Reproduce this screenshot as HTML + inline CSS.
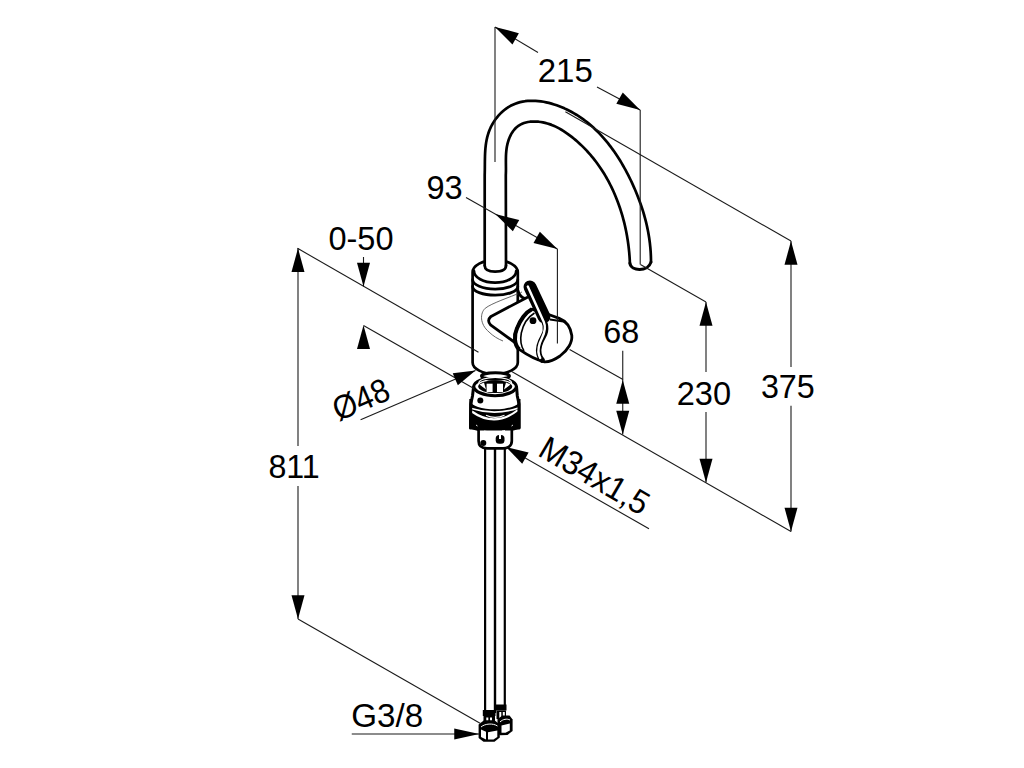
<!DOCTYPE html>
<html><head><meta charset="utf-8"><style>
html,body{margin:0;padding:0;background:#fff;width:1024px;height:768px;overflow:hidden}
svg{display:block}
text{font-family:"Liberation Sans",sans-serif;fill:#000}
</style></head><body>
<svg width="1024" height="768" viewBox="0 0 1024 768">
<rect width="1024" height="768" fill="#fff"/>
<path d="M472.6,272.3 A22.6,12.2 0 0 1 517.8,272.3 L517.8,362.5 A22.6,11.5 0 0 1 472.6,362.5 Z" fill="#fff" stroke="#000" stroke-width="2.7" stroke-linecap="round" stroke-linejoin="round"/>
<path d="M474.0,271 A21.1,11.7 0 0 0 516.2,271" fill="none" stroke="#000" stroke-width="2.7" stroke-linecap="round" stroke-linejoin="round"/>
<path d="M472.6,279.5 A22.6,9.6 0 0 0 517.8,279.5" fill="none" stroke="#000" stroke-width="2.7" stroke-linecap="round" stroke-linejoin="round"/>
<path d="M472.6,286.4 A22.6,8.8 0 0 0 517.8,286.4" fill="none" stroke="#000" stroke-width="2.7" stroke-linecap="round" stroke-linejoin="round"/>
<path d="M522,292 C508,298 492,303 485.2,308.3 C480,313 479.5,324 489,332 C493,336 498,339 503,341" fill="none" stroke="#555" stroke-width="0.9"/>
<path d="M484.7,250 L506,250 L506,265.6 C506,270 501,271.7 495.1,271.7 C489,271.7 484.7,270 484.7,265.6 Z" fill="#fff"/>
<path d="M484.7,265.6 L484.7,175 L484.77,172.35 L484.82,169.68 L484.84,167.01 L484.86,164.32 L484.88,161.63 L484.92,158.93 L484.98,156.24 L485.08,153.54 L485.23,150.86 L485.44,148.18 L485.72,145.52 L486.09,142.87 L486.55,140.23 L487.12,137.62 L487.80,135.04 L488.61,132.48 L489.57,129.95 L490.67,127.46 L491.92,125.01 L493.30,122.62 L494.82,120.30 L496.46,118.06 L498.21,115.92 L500.06,113.89 L502.01,111.98 L504.04,110.21 L506.16,108.58 L508.34,107.12 L510.59,105.82 L512.90,104.68 L515.26,103.69 L517.68,102.86 L520.13,102.17 L522.63,101.62 L525.17,101.21 L527.73,100.94 L530.32,100.78 L532.94,100.76 L535.57,100.85 L538.22,101.05 L540.87,101.37 L543.53,101.79 L546.18,102.31 L548.83,102.92 L551.47,103.63 L554.10,104.42 L556.70,105.29 L559.29,106.25 L561.84,107.27 L564.36,108.36 L566.84,109.52 L569.28,110.74 L571.68,112.01 L574.03,113.34 L576.34,114.72 L578.61,116.16 L580.84,117.65 L583.03,119.19 L585.17,120.78 L587.28,122.42 L589.35,124.10 L591.38,125.83 L593.37,127.60 L595.32,129.41 L597.23,131.27 L599.10,133.16 L600.94,135.10 L602.74,137.07 L604.50,139.07 L606.23,141.12 L607.93,143.19 L609.58,145.30 L611.21,147.43 L612.79,149.60 L614.35,151.79 L615.87,154.01 L617.36,156.25 L618.81,158.52 L620.24,160.81 L621.63,163.12 L622.99,165.45 L624.32,167.80 L625.62,170.17 L626.89,172.55 L628.12,174.94 L629.33,177.35 L630.52,179.77 L631.67,182.20 L632.79,184.64 L633.89,187.09 L634.96,189.54 L636.00,192.00 L637.01,194.47 L637.99,196.94 L638.95,199.42 L639.87,201.91 L640.76,204.41 L641.62,206.92 L642.44,209.44 L643.23,211.96 L643.99,214.50 L644.71,217.04 L645.40,219.60 L646.05,222.17 L646.66,224.74 L647.24,227.33 L647.78,229.93 L648.27,232.54 L648.73,235.16 L649.15,237.80 L649.53,240.44 L649.87,243.10 L650.16,245.78 L650.41,248.46 L650.62,251.16 L650.78,253.87 L650.90,256.60 L650.97,259.34 L651.00,262.10" fill="none" stroke="#000" stroke-width="2.7" stroke-linecap="round" stroke-linejoin="round"/>
<path d="M506,265.6 L505.8,175 L505.89,173.01 L505.94,170.95 L505.95,168.85 L505.93,166.70 L505.91,164.51 L505.89,162.29 L505.89,160.05 L505.92,157.80 L505.98,155.54 L506.10,153.28 L506.29,151.03 L506.55,148.80 L506.91,146.59 L507.35,144.42 L507.89,142.30 L508.53,140.23 L509.27,138.22 L510.10,136.28 L511.03,134.43 L512.07,132.67 L513.20,131.01 L514.43,129.47 L515.77,128.04 L517.21,126.75 L518.76,125.59 L520.41,124.59 L522.17,123.73 L524.01,123.02 L525.93,122.45 L527.92,122.02 L529.96,121.71 L532.06,121.54 L534.20,121.48 L536.37,121.54 L538.56,121.72 L540.76,122.00 L542.96,122.39 L545.15,122.87 L547.33,123.45 L549.47,124.13 L551.58,124.88 L553.64,125.72 L555.65,126.63 L557.61,127.62 L559.54,128.66 L561.42,129.76 L563.27,130.91 L565.08,132.11 L566.86,133.33 L568.62,134.59 L570.35,135.88 L572.05,137.19 L573.73,138.53 L575.38,139.90 L577.01,141.29 L578.61,142.71 L580.18,144.15 L581.73,145.61 L583.26,147.10 L584.75,148.61 L586.23,150.15 L587.67,151.71 L589.09,153.29 L590.49,154.89 L591.86,156.51 L593.20,158.16 L594.52,159.82 L595.82,161.50 L597.09,163.21 L598.33,164.93 L599.55,166.67 L600.75,168.43 L601.92,170.20 L603.06,172.00 L604.19,173.81 L605.28,175.63 L606.35,177.47 L607.40,179.33 L608.42,181.20 L609.42,183.09 L610.39,184.99 L611.34,186.91 L612.27,188.83 L613.17,190.78 L614.05,192.73 L614.90,194.69 L615.73,196.67 L616.53,198.66 L617.31,200.65 L618.07,202.66 L618.80,204.68 L619.51,206.71 L620.20,208.74 L620.86,210.79 L621.50,212.84 L622.11,214.90 L622.70,216.96 L623.27,219.04 L623.82,221.12 L624.34,223.20 L624.84,225.29 L625.31,227.38 L625.76,229.48 L626.19,231.59 L626.60,233.69 L626.98,235.80 L627.34,237.91 L627.68,240.03 L627.99,242.14 L628.28,244.26 L628.55,246.38 L628.80,248.50 L629.02,250.62 L629.23,252.73 L629.41,254.85 L629.56,256.97 L629.70,259.08 L629.81,261.19 L629.90,263.30" fill="none" stroke="#000" stroke-width="2.7" stroke-linecap="round" stroke-linejoin="round"/>
<path d="M484.7,265.6 C484.7,270 489,271.7 495.1,271.7 C501,271.7 506,270 506,265.6" fill="none" stroke="#000" stroke-width="2.7" stroke-linecap="round" stroke-linejoin="round"/>
<path d="M629.9,263.3 C631,271.5 648,272 651,262.1" fill="none" stroke="#000" stroke-width="3" stroke-linecap="round"/>
<path d="M517.8,290.5 C519,294.5 521.5,297.5 525,298.5 L491,316.4 Q486.5,320.5 490.5,324.8 L519,345.5 L527,345 L530,300 Z" fill="#fff"/>
<path d="M517.8,290.5 C519,294.5 521.5,297.5 525,298.5 M527,297.5 L491,316.4 Q486.5,320.5 490.5,324.8 L519,345.5" fill="none" stroke="#000" stroke-width="2.8" stroke-linecap="round" stroke-linejoin="round"/>
<path d="M531.8,309.2 L550,315 L559.2,318.4 C566,321 570.5,327 571.8,335.5 C572.5,342 568,350 560,356 C555,359.5 549,362 544.5,361.8 C535,359.5 526,354 519.2,349.3 C514,345 514,335 516.9,328.7 C520,320 526,312 531.8,309.2 Z" fill="#fff" stroke="#000" stroke-width="2.8" stroke-linejoin="round"/>
<path d="M531.8,309.2 C526,312 520,320 516.9,328.7 C514,335 514,345 519.2,349.3" fill="none" stroke="#000" stroke-width="4"/>
<path d="M534.5,313 C528,317 523,325 521.3,333 C520,340 521,346 524,351" fill="none" stroke="#000" stroke-width="1.6"/>
<path d="M550,319.5 L565,321.8" fill="none" stroke="#000" stroke-width="2"/>
<path d="M530,287 L544,316.7" fill="none" stroke="#000" stroke-width="13" stroke-linecap="round"/>
<path d="M541,316 C546,323 547,330 543.5,336 C540,342 537.5,348 539,354 C539.5,356.5 540.5,358.5 542,360" fill="none" stroke="#000" stroke-width="5.5" stroke-linecap="round"/>
<path d="M527.8,286.5 L543.8,322 C546,327 545,332 542,338 C539,344 537.5,350 539,355 L540.2,358" fill="none" stroke="#fff" stroke-width="2.4" stroke-linecap="round"/>
<circle cx="533" cy="320.7" r="3.4" fill="#000"/>
<path d="M473.6,386.5 A21.5,9.7 0 0 1 516.5,386.5 L517.3,396 L519,404 L519,428 L470.5,428 L470.8,404 L472.5,396 Z" fill="#fff" stroke="#000" stroke-width="3" stroke-linejoin="round"/>
<ellipse cx="495.5" cy="376" rx="14" ry="3.2" fill="#fff" stroke="#000" stroke-width="3"/>
<path d="M473.6,386.5 A21.5,9.9 0 0 0 516.5,386.5" fill="none" stroke="#000" stroke-width="3.2"/>
<ellipse cx="495.2" cy="386.6" rx="17" ry="6.4" fill="#000"/>
<path d="M479.5,384.5 L484,382.5 L486,389.5 Z M510.5,384.5 L506,382.5 L504,389.5 Z" fill="#fff"/>
<rect x="486.6" y="383.7" width="6" height="8.3" fill="#fff"/>
<rect x="497" y="383.7" width="6" height="8.3" fill="#fff"/>
<path d="M478.8,383 A16.4,5.6 0 0 1 511.6,383" fill="none" stroke="#fff" stroke-width="1.2"/>
<path d="M471,401.5 A24,7.8 0 0 0 519,401.5 L519,428.5 C516,430 512,431 505,432.5 C500,433.5 490,433.5 486,433 C480,431.5 474,430 470.5,428.5 Z" fill="#000"/>
<path d="M471.5,408.5 Q495,416 518.5,408" fill="none" stroke="#fff" stroke-width="1.6"/>
<path d="M471.8,411.5 Q495,428 518,410" fill="none" stroke="#fff" stroke-width="2.2"/>
<path d="M486,415.2 Q495,419.5 504.5,415.2" fill="none" stroke="#fff" stroke-width="1.1"/>
<path d="M470.8,399 L470.5,428.5 M519,399 L519,428.5" fill="none" stroke="#000" stroke-width="3"/>
<circle cx="480.3" cy="400.5" r="3" fill="#000"/>
<path d="M476,425 l1.5,1 M513,425 l-1.5,1 M484,431 l3,0.5 M502,431 l3,-0.5" stroke="#fff" stroke-width="0.9"/>
<path d="M478.6,430.5 L478.6,441 C478.6,446 482,448.3 487,448.3 L503,448.3 C508,448.3 511.8,446 511.8,441 L511.8,430.5" fill="#fff" stroke="#000" stroke-width="2.7" stroke-linecap="round" stroke-linejoin="round"/>
<rect x="495.7" y="435" width="8.8" height="8.7" rx="3.5" fill="#000"/>
<rect x="499" y="432" width="2" height="7" fill="#fff"/>
<circle cx="483.3" cy="443" r="3" fill="#000"/>
<line x1="485.10" y1="448.30" x2="485.10" y2="713.00" stroke="#000" stroke-width="2.2"/>
<line x1="495.00" y1="448.30" x2="495.00" y2="713.00" stroke="#000" stroke-width="2.4"/>
<line x1="504.80" y1="448.30" x2="504.80" y2="708.00" stroke="#000" stroke-width="2.2"/>
<path d="M482.8,710 L495.5,710 L495.5,716 L482.8,716 Z" fill="#000"/>
<path d="M495.5,704.5 L506.5,704.5 L506.5,710.5 L495.5,710.5 Z" fill="#000"/>
<path d="M483.5,716 L495,716 L495,725 L483.5,725 Z" fill="#000"/>
<path d="M496.5,710.5 L506,710.5 L506,719 L496.5,719 Z" fill="#000"/>
<path d="M486.3,717.5 h2 v6 h-2 Z M490,717.5 h2 v6 h-2 Z M499.3,712 h2 v6 h-2 Z M502.8,712 h2 v6 h-2 Z" fill="#fff"/>
<path d="M497.5,719 L502.5,715.6 L509.5,715.6 L512.6,719.5 L512.6,731 L507.5,735 L500,735.3 L497.5,733 Z" fill="#000"/>
<path d="M501.5,725.5 L509.8,723.5 L509.8,730.5 L505.5,732.8 L501.5,732.8 Z" fill="#fff"/>
<path d="M500,722 C503,719 507,718.5 510,720" fill="none" stroke="#fff" stroke-width="1"/>
<path d="M478.6,724.5 L484,720.3 L494.5,720.3 L499.8,724.5 L499.8,737.5 L494.5,741.8 L483.5,741.8 L478.6,738 Z" fill="#000"/>
<path d="M481,729.5 L486,731.8 L486,739.5 L481,737 Z" fill="#fff"/>
<path d="M488,732.2 L497.3,730.5 L497.3,737 L493.5,739.5 L488,739.5 Z" fill="#fff"/>
<path d="M481,727 C485,723.5 493,723 497.5,726" fill="none" stroke="#fff" stroke-width="1"/>
<line x1="495.00" y1="27.00" x2="495.00" y2="162.00" stroke="#1a1a1a" stroke-width="1.1"/>
<line x1="640.20" y1="110.00" x2="640.20" y2="264.50" stroke="#1a1a1a" stroke-width="1.1"/>
<line x1="495.00" y1="27.00" x2="538.00" y2="52.50" stroke="#1a1a1a" stroke-width="1.1"/>
<polygon points="495.00,27.00 512.44,44.45 518.89,33.17" fill="#000"/>
<line x1="597.00" y1="87.00" x2="640.20" y2="110.00" stroke="#1a1a1a" stroke-width="1.1"/>
<polygon points="640.20,110.00 622.76,92.55 616.31,103.83" fill="#000"/>
<text x="537.7" y="82" font-size="33.5" text-anchor="start" textLength="55.1" lengthAdjust="spacingAndGlyphs">215</text>
<line x1="466.00" y1="197.50" x2="557.40" y2="249.00" stroke="#1a1a1a" stroke-width="1.1"/>
<polygon points="495.30,214.00 512.84,231.35 519.23,220.02" fill="#000"/>
<polygon points="557.40,249.00 539.86,231.65 533.47,242.98" fill="#000"/>
<line x1="557.40" y1="249.00" x2="557.40" y2="343.60" stroke="#1a1a1a" stroke-width="1.1"/>
<text x="426.4" y="199" font-size="33.5" text-anchor="start" textLength="36.2" lengthAdjust="spacingAndGlyphs">93</text>
<line x1="297.50" y1="248.30" x2="478.50" y2="352.30" stroke="#1a1a1a" stroke-width="1.1"/>
<line x1="511.25" y1="371.20" x2="791.00" y2="531.50" stroke="#1a1a1a" stroke-width="1.1"/>
<line x1="363.50" y1="325.50" x2="473.90" y2="388.40" stroke="#1a1a1a" stroke-width="1.1"/>
<line x1="363.50" y1="257.00" x2="363.50" y2="286.50" stroke="#1a1a1a" stroke-width="1.1"/>
<polygon points="363.50,286.50 370.00,262.70 357.00,262.70" fill="#000"/>
<polygon points="363.50,325.20 357.00,349.00 370.00,349.00" fill="#000"/>
<text x="328.4" y="249.5" font-size="33.5" text-anchor="start" textLength="65.1" lengthAdjust="spacingAndGlyphs">0-50</text>
<line x1="298.00" y1="248.30" x2="298.00" y2="446.00" stroke="#1a1a1a" stroke-width="1.1"/>
<polygon points="298.00,248.30 291.50,272.10 304.50,272.10" fill="#000"/>
<line x1="298.00" y1="486.00" x2="298.00" y2="619.00" stroke="#1a1a1a" stroke-width="1.1"/>
<polygon points="298.00,619.00 304.50,595.20 291.50,595.20" fill="#000"/>
<text x="268.4" y="478" font-size="33.5" text-anchor="start" textLength="51.4" lengthAdjust="spacingAndGlyphs">811</text>
<line x1="298.00" y1="619.00" x2="480.50" y2="723.50" stroke="#1a1a1a" stroke-width="1.1"/>
<line x1="351.75" y1="734.00" x2="479.25" y2="734.00" stroke="#1a1a1a" stroke-width="1.1"/>
<polygon points="479.25,734.00 454.25,728.40 454.25,739.60" fill="#000"/>
<text x="351.2" y="727.3" font-size="33.5" text-anchor="start" textLength="71.9" lengthAdjust="spacingAndGlyphs">G3/8</text>
<line x1="569.60" y1="349.60" x2="623.00" y2="379.60" stroke="#1a1a1a" stroke-width="1.1"/>
<line x1="622.75" y1="350.70" x2="622.75" y2="434.50" stroke="#1a1a1a" stroke-width="1.1"/>
<polygon points="622.75,380.00 616.25,403.80 629.25,403.80" fill="#000"/>
<polygon points="622.75,434.50 629.25,410.70 616.25,410.70" fill="#000"/>
<text x="603.3" y="343" font-size="33.5" text-anchor="start" textLength="36.0" lengthAdjust="spacingAndGlyphs">68</text>
<line x1="640.40" y1="264.50" x2="706.00" y2="302.00" stroke="#1a1a1a" stroke-width="1.1"/>
<line x1="706.00" y1="302.00" x2="706.00" y2="372.00" stroke="#1a1a1a" stroke-width="1.1"/>
<polygon points="706.00,302.00 699.50,325.80 712.50,325.80" fill="#000"/>
<line x1="706.00" y1="412.00" x2="706.00" y2="482.50" stroke="#1a1a1a" stroke-width="1.1"/>
<polygon points="706.00,482.50 712.50,458.70 699.50,458.70" fill="#000"/>
<text x="676.7" y="404.5" font-size="33.5" text-anchor="start" textLength="54.3" lengthAdjust="spacingAndGlyphs">230</text>
<line x1="565.40" y1="111.80" x2="791.00" y2="241.00" stroke="#1a1a1a" stroke-width="1.1"/>
<line x1="791.00" y1="241.00" x2="791.00" y2="367.00" stroke="#1a1a1a" stroke-width="1.1"/>
<polygon points="791.00,241.00 784.50,264.80 797.50,264.80" fill="#000"/>
<line x1="791.00" y1="405.75" x2="791.00" y2="531.50" stroke="#1a1a1a" stroke-width="1.1"/>
<polygon points="791.00,531.50 797.50,507.70 784.50,507.70" fill="#000"/>
<text x="760.9" y="398.3" font-size="33.5" text-anchor="start" textLength="53.9" lengthAdjust="spacingAndGlyphs">375</text>
<line x1="360.60" y1="419.70" x2="475.50" y2="370.50" stroke="#1a1a1a" stroke-width="1.1"/>
<polygon points="475.50,370.50 452.72,373.18 457.83,385.14" fill="#000"/>
<text x="0" y="0" font-size="33.5" transform="translate(338.5,421.5) rotate(-23.2)" textLength="58.5" lengthAdjust="spacingAndGlyphs">Ø48</text>
<line x1="506.30" y1="447.20" x2="649.00" y2="528.80" stroke="#1a1a1a" stroke-width="1.1"/>
<polygon points="506.30,447.20 522.17,463.76 528.62,452.48" fill="#000"/>
<text x="0" y="0" font-size="33.5" transform="translate(536.5,455) rotate(30.3)" textLength="121" lengthAdjust="spacingAndGlyphs">M34x1,5</text>
</svg></body></html>
